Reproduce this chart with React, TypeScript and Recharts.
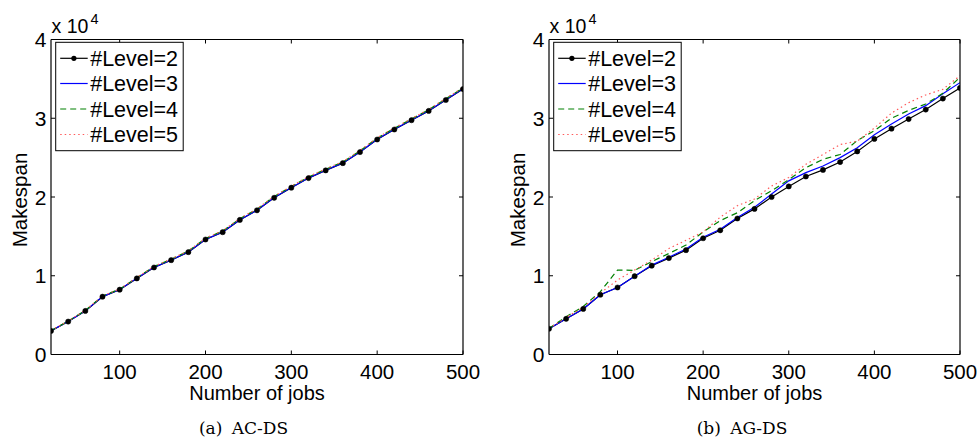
import React from "react";
import { LineChart, Line, XAxis, YAxis } from "recharts";

const jobs = [20, 40, 60, 80, 100, 120, 140, 160, 180, 200, 220, 240, 260, 280, 300, 320, 340, 360, 380, 400, 420, 440, 460, 480, 500];

// (a) AC-DS
const acLevel2 = [3000, 4180, 5530, 7340, 8230, 9660, 11050, 11980, 13000, 14600, 15530, 17090, 18310, 19900, 21180, 22400, 23380, 24300, 25700, 27300, 28570, 29750, 30930, 32320, 33710];
const acLevel3 = [3010, 4190, 5540, 7350, 8250, 9680, 11070, 12000, 13020, 14620, 15560, 17110, 18330, 19930, 21200, 22420, 23400, 24330, 25720, 27320, 28600, 29780, 30960, 32350, 33740];
const acLevel4 = [3040, 4230, 5600, 7420, 8300, 9760, 11170, 12100, 13140, 14740, 15680, 17250, 18460, 20060, 21330, 22550, 23520, 24450, 25860, 27460, 28730, 29900, 31080, 32470, 33850];
const acLevel5 = [3050, 4250, 5620, 7440, 8320, 9780, 11190, 12130, 13170, 14770, 15720, 17290, 18500, 20100, 21370, 22590, 23570, 24500, 25910, 27510, 28780, 29950, 31130, 32520, 33900];

// (b) AG-DS
const agLevel2 = [3270, 4530, 5790, 7590, 8510, 9940, 11280, 12240, 13250, 14760, 15770, 17270, 18490, 20000, 21340, 22600, 23440, 24440, 25790, 27380, 28680, 29900, 31100, 32500, 33850];
const agLevel3 = [3270, 4530, 5790, 7590, 8510, 9940, 11350, 12350, 13400, 14900, 15900, 17400, 18700, 20380, 22050, 23100, 23940, 25000, 26250, 27900, 29270, 30550, 31600, 33100, 34520];
const agLevel4 = [3300, 4800, 6100, 7980, 10730, 10680, 11800, 12830, 13900, 15560, 17000, 18000, 19540, 20800, 22200, 23730, 24780, 25400, 27170, 28430, 30000, 31000, 31800, 33170, 35200];
const agLevel5 = [3300, 4700, 6000, 7800, 9450, 10730, 12000, 13460, 14500, 15560, 17440, 18900, 19750, 21400, 22470, 24150, 25400, 26660, 27090, 28760, 30650, 31980, 32960, 33680, 35400];

const xTicks = [100, 200, 300, 400, 500];
const yTicks = [0, 10000, 20000, 30000, 40000];
const seriesNames = ["#Level=2", "#Level=3", "#Level=4", "#Level=5"];

const FONT = "'Liberation Sans', Arial, Helvetica, sans-serif";
const SERIF = "'DejaVu Serif', 'Liberation Serif', serif";
const TICK = 4;

const styles = [
  { stroke: "#000000", dash: undefined as string | undefined },
  { stroke: "#0000ff", dash: undefined as string | undefined },
  { stroke: "#008000", dash: "6 4" },
  { stroke: "#ff5a5a", dash: "1.5 3" },
];

type Side = "bottom" | "top" | "left" | "right";

const makeTick = (side: Side) => (props: any) => {
  const { x, y, payload } = props;
  if (side === "bottom") {
    return (
      <g>
        <line x1={x} y1={y} x2={x} y2={y - TICK} stroke="#000" strokeWidth={1} />
        <text x={x} y={y + 24} textAnchor="middle" fontFamily={FONT} fontSize={20.5} fill="#000">
          {payload.value}
        </text>
      </g>
    );
  }
  if (side === "top") {
    return <line x1={x} y1={y} x2={x} y2={y + TICK} stroke="#000" strokeWidth={1} />;
  }
  if (side === "left") {
    return (
      <g>
        <line x1={x} y1={y} x2={x + TICK} y2={y} stroke="#000" strokeWidth={1} />
        <text x={x - 4.5} y={y + 7.5} textAnchor="end" fontFamily={FONT} fontSize={21} fill="#000">
          {payload.value / 10000}
        </text>
      </g>
    );
  }
  return <line x1={x} y1={y} x2={x - TICK} y2={y} stroke="#000" strokeWidth={1} />;
};

interface PanelProps {
  left: number;
  width: number;
  plotLeft: number;
  plotRight: number;
  caption: string;
  captionX: number;
  values: number[][];
}

const TOP = 39.5;
const BOTTOM = 354.5;
const HEIGHT = 438;

const Panel = ({ left, width, plotLeft, plotRight, caption, captionX, values }: PanelProps) => {
  const data = jobs.map((j, i) => ({
    jobs: j,
    l2: values[0][i],
    l3: values[1][i],
    l4: values[2][i],
    l5: values[3][i],
  }));
  const keys = ["l2", "l3", "l4", "l5"];
  const plotCenter = (plotLeft + plotRight) / 2;
  const lx = plotLeft + 4.7;
  const rowY = [58.3, 83.5, 109, 134.5];
  const axisLine = { stroke: "#000", strokeWidth: 1.2 };

  return (
    <div style={{ position: "absolute", left, top: 0, width, height: HEIGHT }}>
      <LineChart
        width={width}
        height={HEIGHT}
        data={data}
        margin={{ top: TOP - 1, bottom: HEIGHT - BOTTOM - 1, left: plotLeft - 1, right: width - plotRight - 1 }}
      >
        <XAxis
          xAxisId="b"
          dataKey="jobs"
          type="number"
          domain={[20, 500]}
          ticks={xTicks}
          interval={0}
          height={1}
          tickSize={0}
          tickMargin={0}
          tickLine={false}
          axisLine={axisLine}
          tick={makeTick("bottom")}
          allowDataOverflow
        />
        <XAxis
          xAxisId="t"
          orientation="top"
          dataKey="jobs"
          type="number"
          domain={[20, 500]}
          ticks={xTicks}
          interval={0}
          height={1}
          tickSize={0}
          tickMargin={0}
          tickLine={false}
          axisLine={axisLine}
          tick={makeTick("top")}
          allowDataOverflow
        />
        <YAxis
          yAxisId="l"
          type="number"
          domain={[0, 40000]}
          ticks={yTicks}
          interval={0}
          width={1}
          tickSize={0}
          tickMargin={0}
          tickLine={false}
          axisLine={axisLine}
          tick={makeTick("left")}
          allowDataOverflow
        />
        <YAxis
          yAxisId="r"
          orientation="right"
          type="number"
          domain={[0, 40000]}
          ticks={yTicks}
          interval={0}
          width={1}
          tickSize={0}
          tickMargin={0}
          tickLine={false}
          axisLine={axisLine}
          tick={makeTick("right")}
          allowDataOverflow
        />
        {keys.map((k, i) => (
          <Line
            key={k}
            xAxisId="b"
            yAxisId="l"
            type="linear"
            dataKey={k}
            name={seriesNames[i]}
            stroke={styles[i].stroke}
            strokeWidth={1.2}
            strokeDasharray={styles[i].dash}
            dot={i === 0 ? { r: 2.6, fill: "#000", stroke: "#000", strokeWidth: 0.5 } : false}
            activeDot={false}
            isAnimationActive={false}
          />
        ))}
      </LineChart>
      <svg
        width={width}
        height={HEIGHT}
        style={{ position: "absolute", left: 0, top: 0, pointerEvents: "none" }}
      >
        {/* exponent label */}
        <text x={plotLeft + 0.5} y={33.3} fontFamily={FONT} fontSize={19.5} fill="#000">
          x 10
        </text>
        <text x={plotLeft + 39.5} y={24} fontFamily={FONT} fontSize={14.5} fill="#000">
          4
        </text>
        <text
          transform={`translate(${plotLeft - 24.5}, 200) rotate(-90)`}
          textAnchor="middle"
          fontFamily={FONT}
          fontSize={20.5}
          fill="#000"
        >
          Makespan
        </text>
        <text x={plotCenter} y={400} textAnchor="middle" fontFamily={FONT} fontSize={20} fill="#000">
          Number of jobs
        </text>
        <text
          x={captionX}
          y={434}
          textAnchor="middle"
          fontFamily={SERIF}
          fontSize={17}
          wordSpacing={4}
          fill="#000"
        >
          {caption}
        </text>
        {/* legend */}
        <rect x={lx} y={42.3} width={127.5} height={108.4} fill="#fff" stroke="#000" strokeWidth={1} />
        {seriesNames.map((n, i) => (
          <g key={n}>
            <line
              x1={lx + 4.5}
              x2={lx + 32}
              y1={rowY[i]}
              y2={rowY[i]}
              stroke={styles[i].stroke}
              strokeWidth={1.2}
              strokeDasharray={styles[i].dash}
            />
            {i === 0 && <circle cx={lx + 18.2} cy={rowY[i]} r={2.6} fill="#000" />}
            <text x={lx + 34.5} y={rowY[i] + 7.7} fontFamily={FONT} fontSize={21.5} fill="#000">
              {n}
            </text>
          </g>
        ))}
      </svg>
    </div>
  );
};

export default function App() {
  return (
    <div style={{ position: "absolute", left: 0, top: 0, width: 979, height: 438, background: "#fff" }}>
      <Panel
        left={0}
        width={490}
        plotLeft={51}
        plotRight={463}
        caption="(a) AC-DS"
        captionX={243.5}
        values={[acLevel2, acLevel3, acLevel4, acLevel5]}
      />
      <Panel
        left={490}
        width={489}
        plotLeft={59}
        plotRight={470}
        caption="(b) AG-DS"
        captionX={252}
        values={[agLevel2, agLevel3, agLevel4, agLevel5]}
      />
    </div>
  );
}
